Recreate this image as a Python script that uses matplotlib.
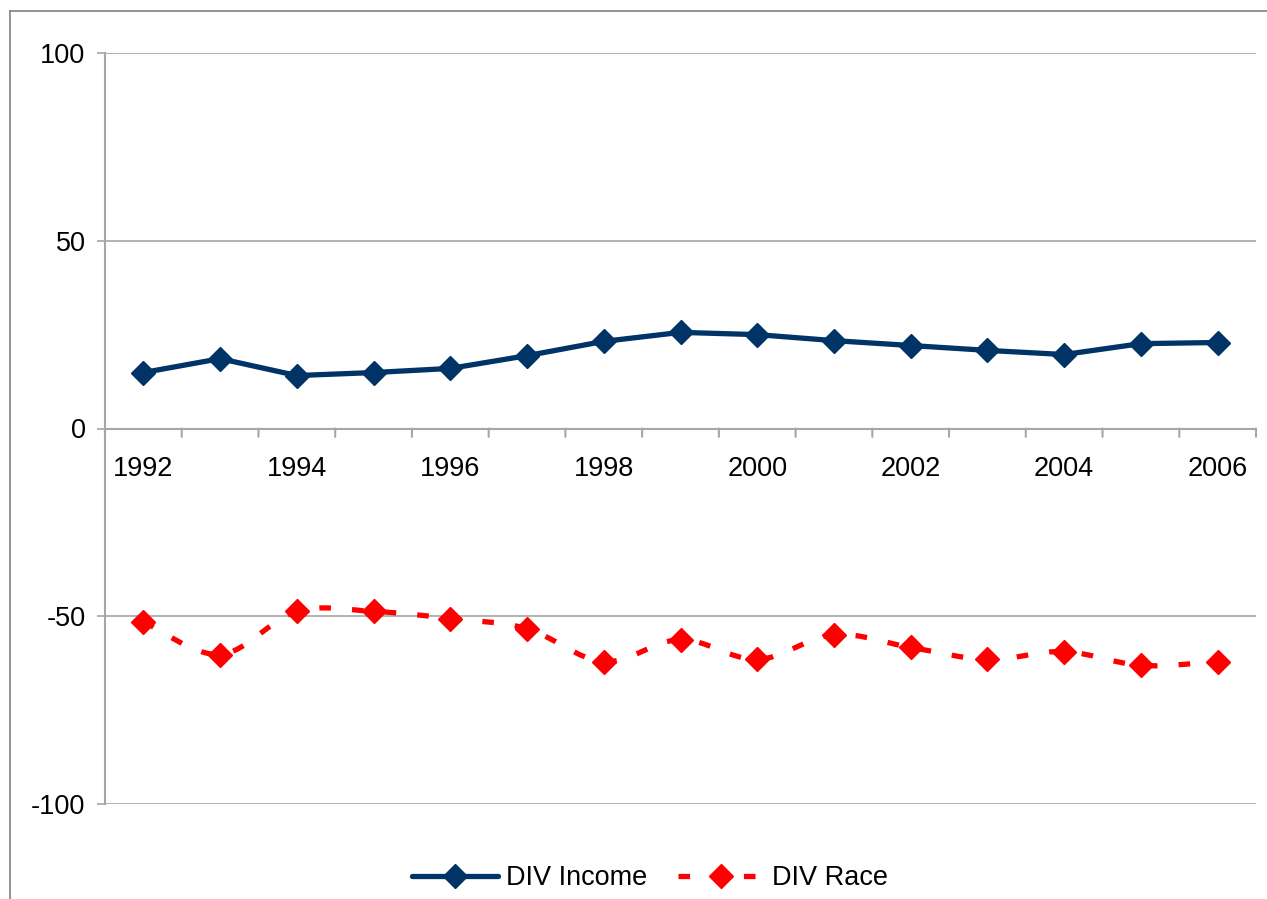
import matplotlib
matplotlib.use("Agg")
import matplotlib.pyplot as plt
from matplotlib.path import Path
from matplotlib.patches import PathPatch
from matplotlib.lines import Line2D
import numpy as np

years = [1992, 1993, 1994, 1995, 1996, 1997, 1998, 1999, 2000, 2001, 2002, 2003, 2004, 2005, 2006]
div_income = [14.9, 18.6, 14.1, 14.9, 16.0, 19.4, 23.2, 25.6, 25.0, 23.4, 22.1, 20.8, 19.7, 22.6, 22.9]
div_race = [-51.4, -60.2, -48.7, -48.7, -50.6, -53.3, -62.1, -56.2, -61.5, -54.9, -58.3, -61.5, -59.4, -63.1, -62.1]
y_ticks = [-100, -50, 0, 50, 100]

plt.rcParams['font.family'] = ['Liberation Sans', 'DejaVu Sans']

W, H = 1267, 899
fig = plt.figure(figsize=(W / 100, H / 100), dpi=100)
ax = fig.add_axes([105 / W, 1 - 804 / H, (1256 - 105) / W, (804 - 53) / H])

x = np.arange(len(years))
navy = '#003366'
red = '#FF0000'
grid_c = '#A6A6A6'

ax.set_xlim(-0.5, len(years) - 0.5)
ax.set_ylim(-100, 100)

for v in y_ticks:
    if v != 0:
        ax.axhline(v, color=grid_c, lw=1.2, zorder=1)
ax.axhline(0, color=grid_c, lw=1.5, zorder=1)

# boundary tick marks on the zero axis
ax.set_xticks([])
for b in np.arange(-0.5, len(years), 1.0):
    ax.annotate('', xy=(b, 0), xycoords='data', xytext=(0, -6), textcoords='offset points',
                arrowprops=dict(arrowstyle='-', color=grid_c, lw=1.5, shrinkA=0, shrinkB=0))
for i, yr in enumerate(years):
    if i % 2 == 0:
        ax.annotate(str(yr), xy=(x[i], 0), xycoords='data', xytext=(0, -20), textcoords='offset points',
                    ha='center', va='top', fontsize=19.5, color='black')

ax.set_yticks(y_ticks)
ax.set_yticklabels([str(v) for v in y_ticks], fontsize=19.5)
ax.tick_params(axis='y', length=6, color=grid_c, width=1.2, pad=8)

for s in ['top', 'right', 'bottom']:
    ax.spines[s].set_visible(False)
ax.spines['left'].set_color(grid_c)
ax.spines['left'].set_linewidth(1.5)

# Income line
ax.plot(x, div_income, color=navy, lw=3.8, marker='D', markersize=12, zorder=4,
        solid_joinstyle='round', solid_capstyle='round', label='DIV Income')

# Race smoothed line (Catmull-Rom via cubic Bezier)
xs = np.array(x, dtype=float)
ys = np.array(div_race, dtype=float)
verts = [(xs[0], ys[0])]
codes = [Path.MOVETO]
n = len(xs)
for i in range(n - 1):
    p0 = np.array([xs[max(i - 1, 0)], ys[max(i - 1, 0)]])
    p1 = np.array([xs[i], ys[i]])
    p2 = np.array([xs[i + 1], ys[i + 1]])
    p3 = np.array([xs[min(i + 2, n - 1)], ys[min(i + 2, n - 1)]])
    c1 = p1 + (p2 - p0) / 6.0
    c2 = p2 - (p3 - p1) / 6.0
    verts += [tuple(c1), tuple(c2), tuple(p2)]
    codes += [Path.CURVE4] * 3
patch = PathPatch(Path(verts, codes), facecolor='none', edgecolor=red, lw=3.8,
                  linestyle=(0, (2.2, 4.0)), zorder=3, capstyle='butt')
ax.add_patch(patch)
ax.plot(x, div_race, linestyle='none', color=red, marker='D', markersize=12, zorder=5)

h1 = Line2D([], [], color=navy, lw=3.8, marker='D', markersize=12, solid_capstyle='round')
h2 = Line2D([], [], color=red, lw=3.8, marker='D', markersize=12, linestyle=(0, (2.2, 4.0)))
fig.legend([h1, h2], ['DIV Income', 'DIV Race'], loc='center', bbox_to_anchor=(650 / W, 1 - 878 / H),
           ncol=2, frameon=False, fontsize=19.5, handlelength=3.2, handletextpad=0.3, columnspacing=1.1)

# outer frame lines (left and top)
fig.add_artist(Line2D([10 / W, 10 / W], [0, 1 - 11 / H], transform=fig.transFigure, color='#808080', lw=1.2))
fig.add_artist(Line2D([10 / W, 1], [1 - 11 / H, 1 - 11 / H], transform=fig.transFigure, color='#808080', lw=1.2))

fig.savefig('out.png', dpi=100)
